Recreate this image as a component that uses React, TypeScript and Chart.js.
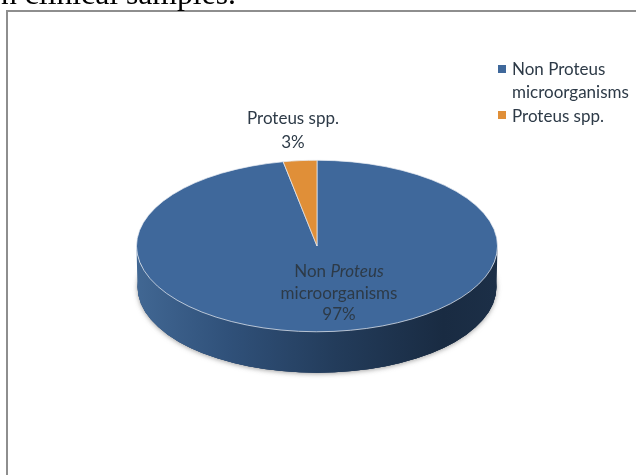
import React, { useEffect, useRef } from "react";
import { Chart, registerables } from "chart.js";

Chart.register(...registerables);

const categories = ["Non Proteus microorganisms", "Proteus spp."];
const shares = [97, 3];
const sliceColors = ["#3f689b", "#e08f38"];
const legendLines = [["Non Proteus", "microorganisms"], ["Proteus spp."]];
const clippedHeading = "n clinical samples.";

const FONT = "Lato";
const TEXT = "#2d3a47";

const pie3d = {
  id: "pie3d",
  beforeDatasetsDraw(chart: any) {
    const ctx = chart.ctx;
    const arc = chart.getDatasetMeta(0).data[0];
    const { x, y, outerRadius: r } = arc;
    const sy = 86 / 181;
    const ry = r * sy;
    const cx = x;
    const cy = y;
    const depth = 41;
    // soft shadow under the side wall
    ctx.save();
    ctx.shadowColor = "rgba(90,90,90,0.6)";
    ctx.shadowBlur = 5;
    ctx.shadowOffsetY = 1;
    ctx.fillStyle = "#24395a";
    ctx.beginPath();
    ctx.ellipse(cx, cy + depth, r - 1, ry, 0, 0, Math.PI * 2);
    ctx.fill();
    ctx.restore();
    // side wall
    const g = ctx.createLinearGradient(cx - r, 0, cx + r, 0);
    g.addColorStop(0, "#416793");
    g.addColorStop(0.25, "#30517a");
    g.addColorStop(0.55, "#233c5b");
    g.addColorStop(0.85, "#192b42");
    g.addColorStop(1, "#1c2f47");
    ctx.save();
    ctx.fillStyle = g;
    ctx.beginPath();
    ctx.ellipse(cx, cy, r, ry, 0, Math.PI, 0, true);
    ctx.ellipse(cx, cy + depth, r - 1, ry, 0, 0, Math.PI);
    ctx.closePath();
    ctx.fill();
    ctx.beginPath();
    ctx.ellipse(cx, cy + depth, r - 1, ry, 0, 0, Math.PI * 2);
    ctx.fill();
    ctx.restore();
    // flatten the library's arcs into the tilted top face
    ctx.save();
    ctx.translate(cx, cy);
    ctx.scale(1, sy);
    ctx.translate(-cx, -cy);
  },
  afterDatasetsDraw(chart: any) {
    const ctx = chart.ctx;
    ctx.restore();
    const arc = chart.getDatasetMeta(0).data[0];
    const { x: cx } = arc;

    ctx.save();
    ctx.textBaseline = "middle";
    ctx.fillStyle = TEXT;
    ctx.textAlign = "center";
    ctx.font = `17px ${FONT}`;
    // label of the small slice
    ctx.fillText(categories[1], 293, 119);
    ctx.fillText(`${shares[1]}%`, 293, 143);
    // label of the large slice (mixed roman and italic)
    const a = "Non ";
    const b = "Proteus";
    const wa = ctx.measureText(a).width;
    ctx.font = `italic 17px ${FONT}`;
    const wb = ctx.measureText(b).width;
    const start = cx + 22 - (wa + wb) / 2;
    ctx.textAlign = "left";
    ctx.font = `17px ${FONT}`;
    ctx.fillText(a, start, 272);
    ctx.font = `italic 17px ${FONT}`;
    ctx.fillText(b, start + wa, 272);
    ctx.textAlign = "center";
    ctx.font = `17px ${FONT}`;
    ctx.fillText("microorganisms", cx + 22, 294);
    ctx.fillText(`${shares[0]}%`, cx + 22, 315);

    // legend
    ctx.textAlign = "left";
    const rows = [
      { box: 69, ys: [70, 93] },
      { box: 115, ys: [117] },
    ];
    rows.forEach((row, i) => {
      ctx.fillStyle = sliceColors[i];
      ctx.fillRect(498, row.box - 4, 8, 8);
      ctx.fillStyle = TEXT;
      legendLines[i].forEach((t, j) => ctx.fillText(t, 512, row.ys[j]));
    });

    // heading of the page above the figure, cut by the top edge
    ctx.fillStyle = "#000";
    ctx.textBaseline = "alphabetic";
    ctx.font = `31.7px "Liberation Serif"`;
    ctx.fillText(clippedHeading, 1, 4);
    ctx.restore();
  },
};

export default function App() {
  const ref = useRef<HTMLCanvasElement>(null);
  useEffect(() => {
    const chart = new Chart(ref.current!, {
      type: "pie",
      data: {
        labels: categories,
        datasets: [
          {
            data: shares,
            backgroundColor: sliceColors,
            borderColor: "#e6ebf1",
            borderWidth: 1,
          },
        ],
      },
      options: {
        responsive: false,
        animation: false,
        layout: { padding: { left: 136, right: 138, top: 65, bottom: 48 } },
        plugins: { legend: { display: false }, tooltip: { enabled: false } },
      },
      plugins: [pie3d],
    });
    return () => chart.destroy();
  }, []);
  return (
    <div style={{ position: "fixed", left: 0, top: 0, width: 636, height: 475, overflow: "hidden", background: "#fff" }}>
      <div style={{ position: "absolute", left: 6, top: 10, width: 2, height: 465, background: "#8e8e8e" }} />
      <div style={{ position: "absolute", left: 6, top: 10, width: 630, height: 2, background: "#8e8e8e" }} />
      <canvas
        ref={ref}
        width={636}
        height={475}
        style={{ position: "absolute", left: 0, top: 0, width: 636, height: 475, filter: "blur(0.4px)" }}
      />
    </div>
  );
}
